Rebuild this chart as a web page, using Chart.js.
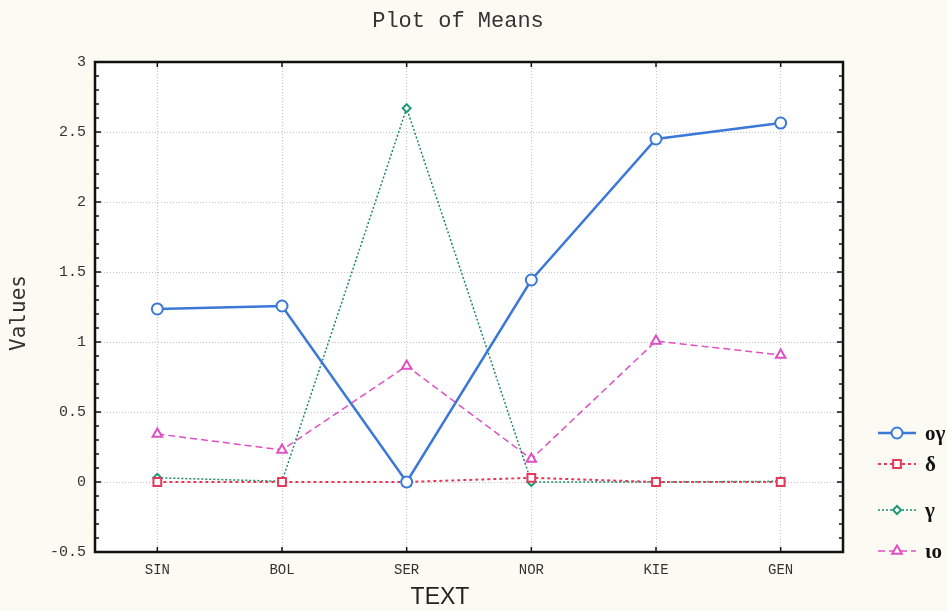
<!DOCTYPE html>
<html>
<head>
<meta charset="utf-8">
<title>Plot of Means</title>
<script src="https://cdn.jsdelivr.net/npm/chart.js@4.4.0/dist/chart.umd.min.js"></script>
<style>
    html, body { margin: 0; padding: 0; background: #fbfbf3; }
    #wrap { width: 947px; height: 611px; position: relative; }
</style>
</head>
<body>
<div id="wrap"><canvas id="chart"></canvas></div>
<script>
const categories = ['SIN', 'BOL', 'SER', 'NOR', 'KIE', 'GEN'];
const seriesNames = ['ογ', 'δ', 'γ', 'ιο'];
const ogValues = [1.236, 1.257, 0.0, 1.443, 2.45, 2.564];
const deltaValues = [0.0, 0.0, 0.0, 0.03, 0.0, 0.0];
const gammaValues = [0.03, 0.005, 2.67, 0.0, 0.0, 0.005];
const ioValues = [0.343, 0.229, 0.829, 0.164, 1.007, 0.907];
const yTicks = [-0.5, 0, 0.5, 1, 1.5, 2, 2.5, 3];

const monoFont = '"Liberation Mono", "Courier New", monospace';

// background, frame, minor ticks, titles and legend
const decorPlugin = {
    id: 'decor',
    beforeDraw(chart) {
        const { ctx, chartArea: a } = chart;
        ctx.save();
        ctx.fillStyle = '#fbfbf3';
        ctx.fillRect(0, 0, chart.width, chart.height);
        ctx.fillStyle = '#ffffff';
        ctx.fillRect(a.left, a.top, a.right - a.left, a.bottom - a.top);
        ctx.restore();
    },
    afterDraw(chart) {
        const { ctx, chartArea: a, scales } = chart;
        const y = scales.y, x = scales.x;
        ctx.save();
        ctx.strokeStyle = '#111';
        ctx.lineWidth = 2.5;
        ctx.strokeRect(a.left, a.top, a.right - a.left, a.bottom - a.top);

        // minor ticks every 0.1 on both sides
        ctx.lineWidth = 1.5;
        for (let i = -5; i <= 30; i++) {
            const py = y.getPixelForValue(i / 10);
            const len = i % 5 === 0 ? 6 : 4;
            ctx.beginPath();
            ctx.moveTo(a.left, py); ctx.lineTo(a.left + len, py);
            ctx.moveTo(a.right, py); ctx.lineTo(a.right - len, py);
            ctx.stroke();
        }
        categories.forEach((c, i) => {
            const px = x.getPixelForValue(i);
            ctx.beginPath();
            ctx.moveTo(px, a.bottom); ctx.lineTo(px, a.bottom - 5);
            ctx.moveTo(px, a.top); ctx.lineTo(px, a.top + 5);
            ctx.stroke();
        });

        // titles
        ctx.fillStyle = '#333';
        ctx.textAlign = 'center';
        ctx.textBaseline = 'middle';
        ctx.font = '22px ' + monoFont;
        ctx.fillText('Plot of Means', 458, 21);
        ctx.font = '23px "Liberation Sans", Arial, sans-serif';
        ctx.fillStyle = '#222';
        ctx.fillText('TEXT', 440, 598);
        ctx.save();
        ctx.translate(20, 313);
        ctx.rotate(-Math.PI / 2);
        ctx.font = '21px "DejaVu Sans Mono", monospace';
        ctx.fillStyle = '#333';
        ctx.fillText('Values', 0, 0);
        ctx.restore();

        // legend
        const legendY = [433, 464, 510, 551];
        chart.data.datasets.forEach((ds, i) => {
            const ly = legendY[i];
            ctx.save();
            ctx.strokeStyle = ds.borderColor;
            ctx.lineWidth = ds.borderWidth;
            ctx.setLineDash(ds.borderDash || []);
            ctx.beginPath();
            ctx.moveTo(878, ly); ctx.lineTo(916, ly);
            ctx.stroke();
            ctx.restore();
            ctx.save();
            ctx.fillStyle = '#fff';
            ctx.strokeStyle = ds.pointBorderColor;
            ctx.lineWidth = ds.pointBorderWidth;
            if (Chart.helpers && Chart.helpers.drawPoint) {
                Chart.helpers.drawPoint(ctx, {
                    pointStyle: ds.pointStyle, radius: ds.pointRadius, borderWidth: ds.pointBorderWidth
                }, 897, ly);
            }
            ctx.restore();
            ctx.fillStyle = '#111';
            ctx.textAlign = 'left';
            ctx.textBaseline = 'middle';
            ctx.font = 'bold 21px "Liberation Serif", "Times New Roman", serif';
            ctx.fillText(ds.label, 925, ly + 2);
        });
        ctx.restore();
    }
};

new Chart(document.getElementById('chart'), {
    type: 'line',
    data: {
        labels: categories,
        datasets: [
            {
                label: seriesNames[0], data: ogValues,
                borderColor: '#3b78d8', borderWidth: 2.5,
                pointStyle: 'circle', pointRadius: 5.5, pointBorderWidth: 2,
                pointBackgroundColor: '#fff', pointBorderColor: '#3b78d8'
            },
            {
                label: seriesNames[1], data: deltaValues,
                borderColor: '#e8385a', borderWidth: 2, borderDash: [3, 3],
                pointStyle: 'rect', pointRadius: 5.5, pointBorderWidth: 2,
                pointBackgroundColor: '#fff', pointBorderColor: '#e8385a'
            },
            {
                label: seriesNames[2], data: gammaValues,
                borderColor: '#1f8a68', borderWidth: 1.5, borderDash: [2, 2],
                pointStyle: 'rectRot', pointRadius: 4, pointBorderWidth: 2,
                pointBackgroundColor: '#fff', pointBorderColor: '#1f9a78'
            },
            {
                label: seriesNames[3], data: ioValues,
                borderColor: '#e04fc4', borderWidth: 1.5, borderDash: [7, 4],
                pointStyle: 'triangle', pointRadius: 5.5, pointBorderWidth: 2,
                pointBackgroundColor: '#fff', pointBorderColor: '#e04fc4'
            }
        ]
    },
    options: {
        responsive: true,
        maintainAspectRatio: false,
        animation: false,
        layout: { padding: { top: 62, right: 104, left: 0, bottom: 0 } },
        plugins: {
            legend: { display: false },
            title: { display: false },
            tooltip: { enabled: false }
        },
        scales: {
            x: {
                offset: true,
                grid: { color: '#c4c4c4', lineWidth: 1, drawTicks: false },
                border: { display: false, dash: [1, 2] },
                ticks: { color: '#333', padding: 10, font: { family: monoFont, size: 14 } },
                afterFit(scale) { scale.height = 59; }
            },
            y: {
                min: -0.5, max: 3,
                afterBuildTicks(scale) { scale.ticks = yTicks.map(v => ({ value: v })); },
                grid: { color: '#c4c4c4', lineWidth: 1, drawTicks: false },
                border: { display: false, dash: [1, 2] },
                ticks: {
                    color: '#333', padding: 9, font: { family: monoFont, size: 15 },
                    callback: v => String(v)
                },
                afterFit(scale) { scale.width = 95; }
            }
        }
    },
    plugins: [decorPlugin]
});
</script>
</body>
</html>
